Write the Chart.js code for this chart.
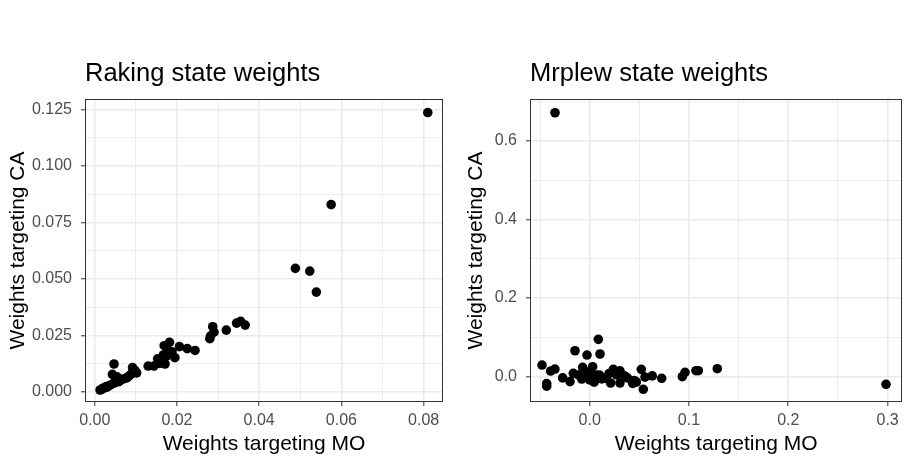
<!DOCTYPE html>
<html>
<head>
<meta charset="utf-8">
<title>State weights</title>
<script src="https://cdn.jsdelivr.net/npm/chart.js@4"></script>
<style>
  body { margin: 0; background: #fff; }
  #wrap { position: relative; width: 910px; height: 462px; }
  canvas { position: absolute; top: 0; }
  #rakingChart { left: 0; }
  #mrplewChart { left: 455px; }
</style>
</head>
<body>
<div id="wrap">
  <canvas id="rakingChart" width="455" height="462"></canvas>
  <canvas id="mrplewChart" width="455" height="462"></canvas>
</div>
<script>
// weights per state: x = targeting MO, y = targeting CA
const rakingMO = [0.0810, 0.0575, 0.0488, 0.0523, 0.0539, 0.0366, 0.0355, 0.0345, 0.0320, 0.0287,
  0.0290, 0.0280, 0.0282, 0.0244, 0.0225, 0.0206, 0.0195, 0.0182, 0.0169, 0.0178,
  0.0188, 0.0167, 0.0171, 0.0153, 0.0160, 0.0144, 0.0130, 0.0158, 0.0175, 0.0102,
  0.0092, 0.0082, 0.0070, 0.0059, 0.0047, 0.0043, 0.0054, 0.0037, 0.0028, 0.0020,
  0.0013, 0.0045, 0.0065, 0.0088, 0.0030, 0.0017, 0.0098, 0.0077, 0.0050, 0.0024];
const rakingCA = [0.1236, 0.0829, 0.0547, 0.0535, 0.0442, 0.0296, 0.0313, 0.0305, 0.0274, 0.0289,
  0.0265, 0.0236, 0.0248, 0.0184, 0.0192, 0.0201, 0.0152, 0.0220, 0.0205, 0.0185,
  0.0178, 0.0164, 0.0124, 0.0147, 0.0140, 0.0115, 0.0115, 0.0127, 0.0160, 0.0085,
  0.0108, 0.0068, 0.0058, 0.0046, 0.0124, 0.0078, 0.0067, 0.0030, 0.0024, 0.0017,
  0.0009, 0.0038, 0.0055, 0.0078, 0.0022, 0.0012, 0.0095, 0.0062, 0.0042, 0.0019];

const mrplewMO = [-0.0349, 0.2984, 0.1285, 0.1094, 0.1070, 0.0960, 0.0933, 0.0725, 0.0630, 0.0540,
  0.0520, 0.0557, 0.0470, 0.0433, 0.0349, 0.0305, 0.0305, 0.0238, 0.0211, 0.0164,
  0.0104, 0.0087, -0.0027, -0.0148, 0.0030, -0.0071, 0.0045, 0.0065, 0.0100, -0.0050,
  -0.0165, -0.0198, -0.0272, -0.0350, -0.0393, -0.0480, -0.0433, -0.0433, -0.0110, 0.0030,
  0.0122, 0.0000, 0.0270, 0.0380, -0.0020, 0.0450, 0.0195, -0.0080];
const mrplewCA = [0.6710, -0.0194, 0.0204, 0.0153, 0.0153, 0.0110, 0.0000, -0.0040, 0.0020, -0.0320,
  0.0187, -0.0010, -0.0135, -0.0170, 0.0025, 0.0150, -0.0160, 0.0187, -0.0160, -0.0040,
  0.0577, 0.0950, 0.0550, 0.0660, 0.0254, 0.0237, -0.0140, 0.0040, 0.0040, -0.0005,
  0.0085, -0.0125, -0.0030, 0.0195, 0.0145, 0.0297, -0.0175, -0.0240, 0.0040, 0.0020,
  -0.0055, -0.0080, 0.0050, -0.0030, 0.0120, -0.0100, 0.0080, -0.0060];

// axis breaks (major labelled, minor = grid only)
const rakingXMajor = [0, 0.02, 0.04, 0.06, 0.08];
const rakingXMinor = [0.01, 0.03, 0.05, 0.07];
const rakingYMajor = [0, 0.025, 0.05, 0.075, 0.1, 0.125];
const rakingYMinor = [0.0125, 0.0375, 0.0625, 0.0875, 0.1125];
const mrplewXMajor = [0, 0.1, 0.2, 0.3];
const mrplewXMinor = [-0.05, 0.05, 0.15, 0.25];
const mrplewYMajor = [0, 0.2, 0.4, 0.6];
const mrplewYMinor = [0.1, 0.3, 0.5, 0.7];

const FONT = '"Liberation Sans", Arial, Helvetica, sans-serif';

// ggplot-ish panel border on all four sides
const panelBorder = {
  id: 'panelBorder',
  afterDatasetsDraw(chart) {
    const { ctx, chartArea: a } = chart;
    ctx.save();
    ctx.strokeStyle = '#333333';
    ctx.lineWidth = 1;
    ctx.strokeRect(Math.round(a.left) + 0.5, Math.round(a.top) + 0.5, Math.round(a.right - a.left) - 1, Math.round(a.bottom - a.top) - 1);
    ctx.restore();
  },
};

function axis(major, minor, decimals, min, max, title, size, extra) {
  const all = [...major, ...minor].sort((a, b) => a - b);
  const isMajor = (v) => major.some((m) => Math.abs(m - v) < 1e-9);
  return {
    type: 'linear', min, max,
    afterBuildTicks: (s) => { s.ticks = all.map((v) => ({ value: v })); },
    afterFit: (s) => { if (s.isHorizontal()) s.height = size; else s.width = size; },
    border: { display: false },
    grid: {
      color: '#ebebeb',
      lineWidth: (c) => (c.tick && isMajor(c.tick.value) ? 1.6 : 0.9),
      tickColor: (c) => (c.tick && isMajor(c.tick.value) ? '#333333' : 'rgba(0,0,0,0)'),
      tickLength: 4,
      tickWidth: 1,
    },
    ticks: {
      color: '#4d4d4d',
      font: { family: FONT, size: 16 },
      padding: extra.tickPad,
      autoSkip: false,
      maxRotation: 0,
      callback: (v) => (isMajor(v) ? Number(v).toFixed(decimals) : ''),
    },
    title: { display: true, text: title, color: '#000', font: { family: FONT, size: 21 }, padding: extra.titlePad },
  };
}

function drawPanel(canvasId, title, xs, ys, xCfg, yCfg, padRight) {
  const ctx = document.getElementById(canvasId).getContext('2d');
  return new Chart(ctx, {
    type: 'scatter',
    data: { datasets: [{ data: xs.map((x, i) => ({ x, y: ys[i] })), backgroundColor: '#000', borderWidth: 0, pointRadius: 4.8 }] },
    options: {
      responsive: false, animation: false, devicePixelRatio: 1,
      layout: { padding: { left: 0, right: padRight, top: 0, bottom: 0 } },
      plugins: {
        legend: { display: false },
        tooltip: { enabled: false },
        title: { display: true, text: title, align: 'start', fullSize: false, color: '#000', font: { family: FONT, size: 25.5, weight: 'normal' }, padding: { top: 58.7, bottom: 9.7 } },
      },
      scales: { x: xCfg, y: yCfg },
    },
    plugins: [panelBorder],
  });
}

drawPanel('rakingChart', 'Raking state weights', rakingMO, rakingCA,
  axis(rakingXMajor, rakingXMinor, 2, -0.00236, 0.0847, 'Weights targeting MO', 60, { tickPad: 5, titlePad: { top: 0, bottom: 5.4 } }),
  axis(rakingYMajor, rakingYMinor, 3, -0.0044, 0.1296, 'Weights targeting CA', 85, { tickPad: 9, titlePad: { top: 5.4, bottom: 0 } }),
  12);

drawPanel('mrplewChart', 'Mrplew state weights', mrplewMO, mrplewCA,
  axis(mrplewXMajor, mrplewXMinor, 1, -0.0601, 0.3148, 'Weights targeting MO', 60, { tickPad: 5, titlePad: { top: 0, bottom: 5.4 } }),
  axis(mrplewYMajor, mrplewYMinor, 1, -0.0643, 0.706, 'Weights targeting CA', 75, { tickPad: 9, titlePad: { top: 8.4, bottom: 0 } }),
  7.7);
</script>
</body>
</html>
